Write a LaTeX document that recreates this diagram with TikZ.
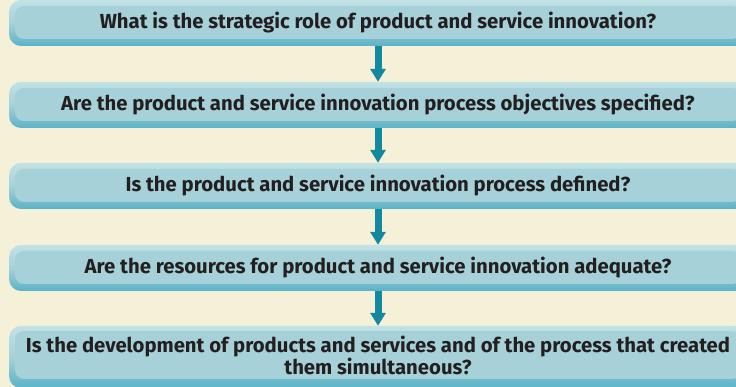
\documentclass[tikz,border=0pt]{standalone}
\usepackage{fontspec}
\setmainfont{Fira Sans}
\usetikzlibrary{arrows.meta,shadings}
\definecolor{bg}{HTML}{F5F0D8}
\definecolor{boxtop}{HTML}{C2E2E5}
\definecolor{boxmid}{HTML}{A6D1D9}
\definecolor{boxbot}{HTML}{5AB2C7}
\definecolor{boxin}{HTML}{A6D1D9}
\definecolor{arr}{HTML}{12899F}
\definecolor{txt}{HTML}{231F20}
\tikzset{
  outerbox/.style={rectangle, rounded corners=12pt, minimum width=738pt,
    inner sep=0pt, top color=boxtop, bottom color=boxbot, middle color=boxmid, draw=none},
  innerbox/.style={rectangle, rounded corners=9pt, minimum width=726pt,
    inner sep=0pt, fill=boxin, draw=none, text=txt, align=center,
    font=\fontsize{20.3}{19}\selectfont\bfseries},
  flow/.style={draw=arr, line width=7pt, -{Triangle[width=15pt,length=13pt]}, shorten >=0pt}
}
\begin{document}
\begin{tikzpicture}[x=1pt,y=1pt]
\useasboundingbox (0,0) rectangle (736,387);
\fill[bg] (0,0) rectangle (736,387);
\node[outerbox, minimum height=46pt] (b1) at (378,364) {};
\node[outerbox, minimum height=46pt] (b2) at (378,282) {};
\node[outerbox, minimum height=46pt] (b3) at (378,201) {};
\node[outerbox, minimum height=46pt] (b4) at (378,119) {};
\node[outerbox, minimum height=62pt] (b5) at (378,30) {};
\node[innerbox, minimum height=33pt] (t1) at ([yshift=0.5pt]b1.center) {What is the strategic role of product and service innovation?};
\node[innerbox, minimum height=33pt] (t2) at ([yshift=0.5pt]b2.center) {Are the product and service innovation process objectives specified?};
\node[innerbox, minimum height=33pt] (t3) at ([yshift=0.5pt]b3.center) {Is the product and service innovation process defined?};
\node[innerbox, minimum height=33pt] (t4) at ([yshift=0.5pt]b4.center) {Are the resources for product and service innovation adequate?};
\node[innerbox, minimum height=48pt] (t5) at ([yshift=2pt]b5.center) {Is the development of products and services and of the process that created\\them simultaneous?};
\draw[flow] (b1.south) -- (b2.north);
\draw[flow] (b2.south) -- (b3.north);
\draw[flow] (b3.south) -- (b4.north);
\draw[flow] (b4.south) -- (b5.north);
\end{tikzpicture}
\end{document}
